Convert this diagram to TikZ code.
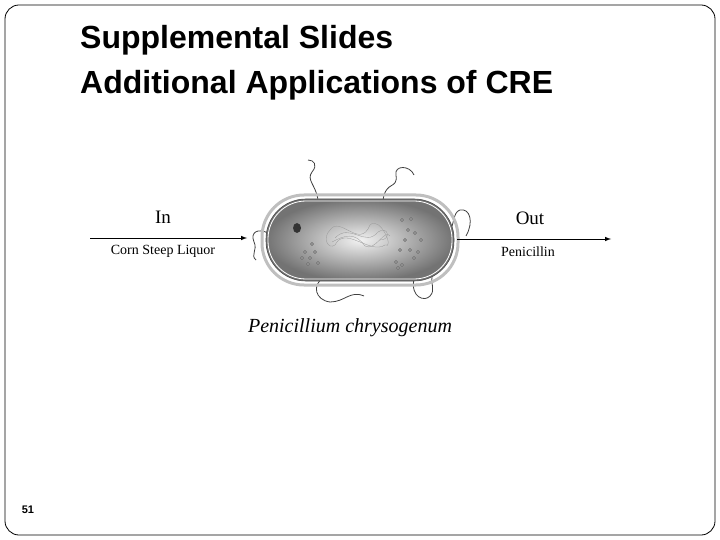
\documentclass[tikz,border=0pt]{standalone}
\usepackage{fontspec}
\setmainfont{Liberation Serif}
\newfontfamily\arialf{Liberation Sans}
\begin{document}
\begin{tikzpicture}[x=1pt,y=-1pt,
  flag/.style={draw=black!75,line width=0.8pt},
  dot/.style={draw=black!60,fill=black!40,line width=0.3pt}]
\useasboundingbox (0,0) rectangle (720,540);
\draw[rounded corners=14pt,line width=0.8pt] (5,5) rectangle (715,535);
\node[anchor=west,font=\arialf\bfseries\fontsize{32}{45}\selectfont,align=left,inner sep=0pt] (title) at (80,63) {Supplemental Slides\\Additional Applications of CRE};
\node[font=\arialf\bfseries\fontsize{11}{12}\selectfont] (num) at (28,510) {51};
% flagella
\draw[flag] (318,200) .. controls (316,185) and (306,180) .. (312,172) .. controls (318,165) and (314,160) .. (308,160);
\draw[flag] (383,200) .. controls (386,180) and (398,190) .. (396,175) .. controls (394,165) and (410,165) .. (414,175);
\draw[flag] (268,233) .. controls (258,228) and (250,232) .. (254,242) .. controls (258,250) and (250,255) .. (256,260);
\draw[flag] (447,235) .. controls (455,228) and (452,212) .. (460,210) .. controls (470,208) and (474,222) .. (466,236);
\draw[flag] (323,278) .. controls (312,285) and (315,300) .. (330,302) .. controls (345,302) and (350,290) .. (364,296);
\draw[flag] (414,278) .. controls (410,298) and (425,302) .. (430,296) .. controls (436,290) and (430,282) .. (432,277);
% cell
\draw[line width=3pt,draw=black!25,rounded corners=42pt] (262,195) rectangle (458,285);
\shade[inner color=black!5,outer color=black!55,rounded corners=40pt,draw=black!70,line width=0.6pt] (266,199) rectangle (454,281);
\draw[draw=white,line width=0.8pt,rounded corners=38pt] (268,201) rectangle (452,279);
% nucleoid
\draw[black!40,line width=0.3pt] (330,230) .. controls (340,215) and (360,250) .. (370,225) .. controls (380,215) and (395,250) .. (385,245)
  .. controls (370,255) and (345,225) .. (335,245) .. controls (328,250) and (322,238) .. (330,230);
\draw[black!40,line width=0.3pt] (335,238) .. controls (350,222) and (365,248) .. (378,232) .. controls (388,225) and (392,240) .. (380,240);
\draw[black!40,line width=0.3pt] (332,242) .. controls (345,235) and (355,232) .. (365,246) .. controls (375,252) and (385,228) .. (390,236);
\fill[black!80] (297,228) ellipse (4pt and 5pt);
\foreach \p in {(312,244),(305,252),(310,258),(315,252),(302,258),(318,263),(308,264),(402,220),(411,219),(408,230),(415,233),(405,240),(400,250),(410,250),(418,252),(414,258),(421,240),(396,262),(402,265),(398,268)}
  \draw[dot] \p circle (1.6pt);
\node (cell) at (360,240) {};
% arrows
\coordinate (lin) at (90,238);
\coordinate (rout) at (611,239);
\draw[-latex,line width=1pt] (lin) -- (247,238);
\draw[-latex,line width=1pt] (457,239) -- (rout);
\node[font=\fontsize{19}{20}\selectfont] (in) at (163,217) {In};
\node[font=\fontsize{14}{16}\selectfont] (csl) at (163,251) {Corn Steep Liquor};
\node[font=\fontsize{19}{20}\selectfont] (out) at (530,218) {Out};
\node[font=\fontsize{14}{16}\selectfont] (pen) at (528,252) {Penicillin};
\node[font=\itshape\fontsize{20}{22}\selectfont] (cap) at (350,328) {Penicillium chrysogenum};
\end{tikzpicture}
\end{document}
